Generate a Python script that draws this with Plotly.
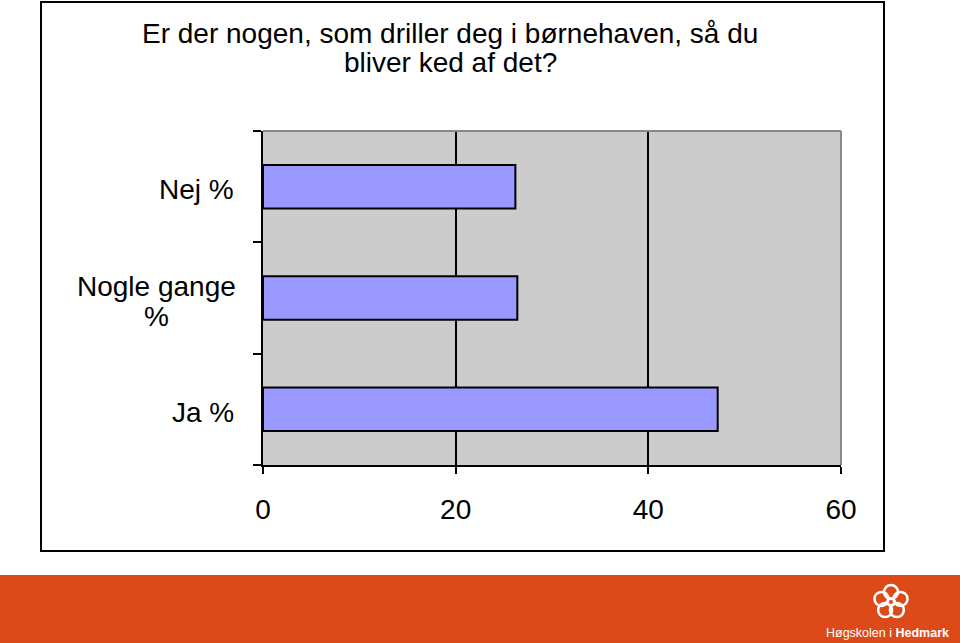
import plotly.graph_objects as go
import math

categories = ["Nej %", "Nogle gange %", "Ja %"]
cat_label_lines = [["Nej %"], ["Nogle gange", "%"], ["Ja %"]]
values = [26.2, 26.4, 47.2]
x_ticks = [0, 20, 40, 60]
title_lines = ["Er der nogen, som driller deg i børnehaven, så du", "bliver ked af det?"]

W, H = 960, 643
L, R, T, B = 263, 841, 131, 465
pw, ph = R - L, B - T

def px(x):
    return (x - L) / pw

def py(y):
    return (B - y) / ph

FONT = "Arial, Liberation Sans, sans-serif"

fig = go.Figure()
fig.add_trace(go.Bar(
    y=categories, x=values, orientation="h",
    marker=dict(color="#9999ff", line=dict(color="black", width=2)),
    width=0.39,
))

shapes = []
shapes.append(dict(type="rect", xref="paper", yref="paper",
                   x0=px(41), x1=px(884), y0=py(551), y1=py(2),
                   line=dict(color="black", width=2), layer="below"))
shapes.append(dict(type="rect", xref="paper", yref="paper",
                   x0=px(-5), x1=px(965), y0=py(648), y1=py(575),
                   fillcolor="#dc4a19", line=dict(width=0), layer="below"))
shapes.append(dict(type="line", xref="paper", yref="paper",
                   x0=0, x1=1, y0=1, y1=1, line=dict(color="#8a8a8a", width=2)))
shapes.append(dict(type="line", xref="paper", yref="paper",
                   x0=1, x1=1, y0=0, y1=1, line=dict(color="#8a8a8a", width=2)))
# logo: ring of small circles
cx, cy, rr, cr = 891, 602, 10, 7
for k in range(5):
    a = math.pi / 2 + k * 2 * math.pi / 5
    x = cx + rr * math.cos(a)
    y = cy - rr * math.sin(a)
    shapes.append(dict(type="circle", xref="paper", yref="paper",
                       x0=px(x - cr), x1=px(x + cr), y0=py(y + cr), y1=py(y - cr),
                       line=dict(color="white", width=2.5)))
shapes.append(dict(type="circle", xref="paper", yref="paper",
                   x0=px(cx - 4), x1=px(cx + 4), y0=py(cy + 4), y1=py(cy - 4),
                   line=dict(color="white", width=2)))

annotations = []
for line, yc in zip(title_lines, [33, 63]):
    annotations.append(dict(text=line, xref="paper", yref="paper",
                            x=px(450), y=py(yc), xanchor="center", yanchor="middle",
                            showarrow=False,
                            font=dict(family=FONT, size=28, color="black")))
for c, lines in zip(categories, cat_label_lines):
    n = len(lines)
    for i, line in enumerate(lines):
        shift = -3 + (n - 1) * 15 - i * 30
        annotations.append(dict(text=line, xref="paper", y=c, yref="y",
                                x=px(236) if n == 1 else px(156),
                                xanchor="right" if n == 1 else "center",
                                yanchor="middle", yshift=shift,
                                showarrow=False,
                                font=dict(family=FONT, size=28, color="black")))
annotations.append(dict(text="Høgskolen i <b>Hedmark</b>", xref="paper", yref="paper",
                        x=px(951), y=py(633), xanchor="right", yanchor="middle",
                        showarrow=False, font=dict(family=FONT, size=12.5, color="white")))

fig.update_layout(
    width=W, height=H,
    margin=dict(l=L, r=W - R, t=T, b=H - B, pad=0),
    paper_bgcolor="white", plot_bgcolor="#cccccc",
    showlegend=False,
    shapes=shapes, annotations=annotations,
)
fig.update_xaxes(range=[0, 60], tickvals=x_ticks, ticks="outside", ticklen=7,
                 tickwidth=2, tickcolor="black", showline=True, linecolor="black",
                 linewidth=2, showgrid=True, gridcolor="black", gridwidth=2,
                 zeroline=False, ticklabelstandoff=11,
                 tickfont=dict(family=FONT, size=28, color="black"))
fig.update_yaxes(categoryorder="array", categoryarray=categories[::-1],
                 range=[-0.5, 2.5], showticklabels=False, ticks="outside",
                 tickson="boundaries", ticklen=8, tickwidth=2, tickcolor="black",
                 showline=True, linecolor="black", linewidth=2, showgrid=False,
                 zeroline=False)

fig.write_html("out.html")
